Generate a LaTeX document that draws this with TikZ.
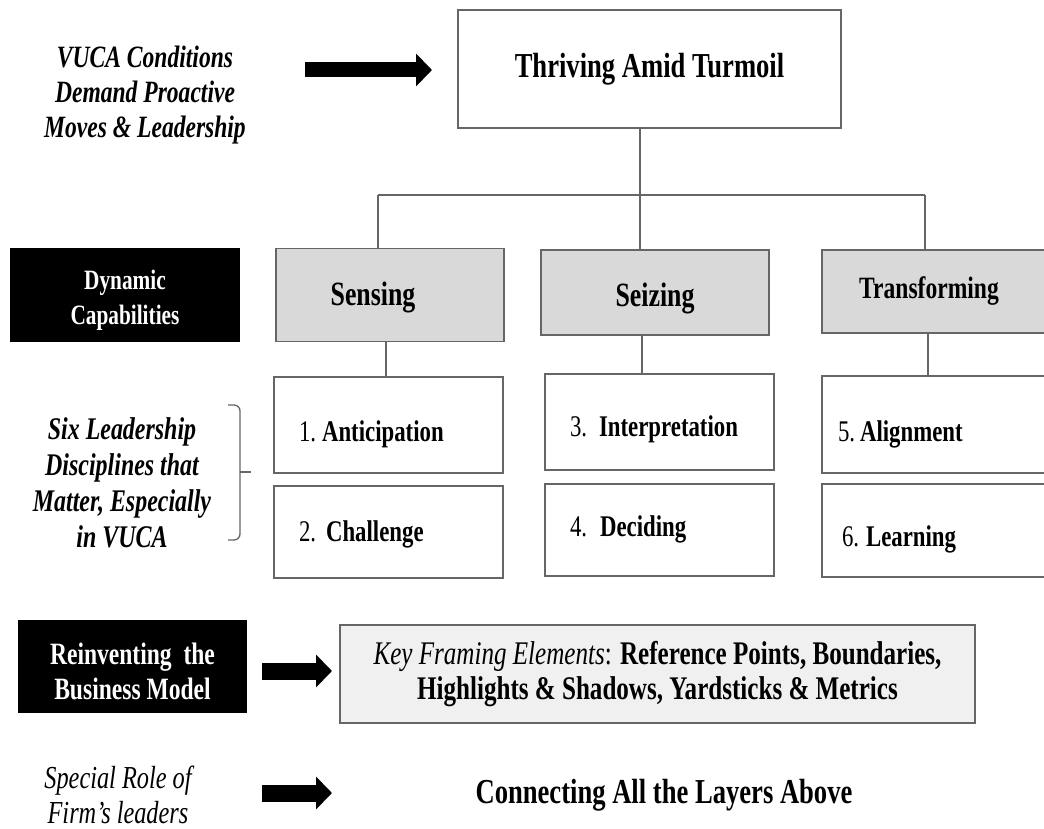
\documentclass[tikz,border=0pt]{standalone}
\usepackage{fontspec}
\setmainfont[FakeStretch=0.76]{Liberation Serif}
\usepackage{tikz}
\usetikzlibrary{arrows.meta}
\newcommand{\fsz}[2]{\fontsize{#1}{#2}\selectfont}
\newcommand{\lift}[1]{\rule{0pt}{#1}}

\begin{document}
\begin{tikzpicture}[x=1pt, y=-1pt,
        every node/.style={inner sep=0pt, outer sep=0pt},
        boxline/.style={draw=black!60, line width=1.4pt},
        topbox/.style={boxline, minimum width=383pt, minimum height=118pt, font=\fsz{35}{40}\bfseries},
        capbox/.style={boxline, fill=gray!30, minimum width=228pt, font=\fsz{34}{38}\bfseries},
        discbox/.style={boxline, text width=179pt, inner xsep=25pt, align=left, text depth=7pt, font=\fsz{30}{34}},
        blackbox/.style={fill=black, text=white, minimum width=230pt, minimum height=94pt, align=center, font=\fsz{28}{35}\bfseries},
        sidetext/.style={align=center, font=\fsz{31}{35}\bfseries\itshape},
        link/.style={draw=black!60, line width=1.3pt},
        fatarrow/.style={line width=#1, -{Triangle[length=16pt, width=32pt]}}
    ]
    \useasboundingbox (0,0) rectangle (1044,829);

    \node[topbox] (top) at (649.5,69) {Thriving Amid Turmoil};
    \node[sidetext] (vuca) at (145,95) {VUCA Conditions\\Demand Proactive\\Moves \& Leadership};

    \node[blackbox] (dyncap) at (125,294.5) {\lift{31pt}Dynamic\\Capabilities};
    \node[capbox, minimum height=93pt, text height=29pt] (sensing) at (390,295) {Sensing\hspace*{34pt}};
    \node[capbox, minimum height=85pt, text height=35pt] (seizing) at (655,292.5) {Seizing};
    \node[capbox, minimum height=83pt, font=\fsz{31}{35}\bfseries] (transforming) at (936,291.5) {Transforming\hspace*{14pt}};

    \node[discbox, minimum height=96pt, text height=40pt] (anticip) at (388.5,425) {1.\kern6pt\textbf{Anticipation}};
    \node[discbox, minimum height=92pt, text height=26pt] (challenge) at (388.5,532) {2.\kern10pt\textbf{Challenge}};
    \node[discbox, minimum height=96pt, text height=36pt] (interp) at (659.5,422) {3.\kern12pt\textbf{Interpretation}};
    \node[discbox, minimum height=92pt, text height=20pt] (deciding) at (659.5,530) {4.\kern13pt\textbf{Deciding}};
    \node[discbox, minimum height=97pt, text height=40pt, inner xsep=16pt, text width=196pt] (alignm) at (936,424.5) {5.\kern5pt\textbf{Alignment}};
    \node[discbox, minimum height=93pt, text height=38pt, inner xsep=20pt, text width=188pt] (learning) at (936,530.5) {6.\kern7pt\textbf{Learning}};
    \node[sidetext, font=\fsz{31.5}{36}\bfseries\itshape] (six) at (122,483) {Six Leadership\\Disciplines that\\Matter, Especially\\in VUCA};

    \node[blackbox, minimum width=229pt, minimum height=93pt, font=\fsz{31}{35}\bfseries] (reinvent) at (132.5,666.5) {\lift{31pt}Reinventing\ \ the\\Business Model};
    \node[boxline, fill=gray!12, minimum width=635pt, minimum height=98pt, align=center, font=\fsz{33}{35}] (keyframe) at (657.5,674)
        {\textit{Key Framing Elements}: \textbf{Reference Points, Boundaries,}\\\textbf{Highlights \& Shadows, Yardsticks \& Metrics}};

    \node[sidetext, font=\fsz{32}{35}\itshape] (special) at (118,795) {Special Role of\\Firm's leaders};
    \node[font=\fsz{35}{40}\bfseries] (connecting) at (664,795) {Connecting All the Layers Above};

    \coordinate (hub) at (640,195);
    \coordinate (hubL) at (378,195);
    \coordinate (hubR) at (925,195);
    \draw[link] (top.south -| hub) -- (hub);
    \draw[link] (hubL) -- (hubR);
    \draw[link] (hubL) -- (hubL |- sensing.north);
    \draw[link] (hub) -- (hub |- seizing.north);
    \draw[link] (hubR) -- (hubR |- transforming.north);
    \draw[link] ([xshift=-4pt]sensing.south) -- ([xshift=-4pt]sensing.south |- anticip.north);
    \draw[link] ([xshift=-13pt]seizing.south) -- ([xshift=-13pt]seizing.south |- interp.north);
    \draw[link] ([xshift=-8pt]transforming.south) -- ([xshift=-8pt]transforming.south |- alignm.north);

    \coordinate (braceT) at (228,405);
    \coordinate (braceB) at (228,540);
    \coordinate (braceTip) at (251,472);
    \draw[link, rounded corners=6pt] (braceT) -- (240,405) -- (240,540) -- (braceB);
    \draw[link] (240,472) -- (braceTip);

    \coordinate (arrTop) at (305,70);
    \coordinate (arrBot) at (262,793);
    \coordinate (arrBotEnd) at (332,793);
    \draw[fatarrow=15pt, shorten >=26pt] (arrTop) -- (arrTop -| top.west);
    \draw[fatarrow=17pt, shorten <=15pt, shorten >=8pt] ([yshift=-4.5pt]reinvent.east) -- ([yshift=-4.5pt]reinvent.east -| keyframe.west);
    \draw[fatarrow=17pt] (arrBot) -- (arrBotEnd);
\end{tikzpicture}
\end{document}
